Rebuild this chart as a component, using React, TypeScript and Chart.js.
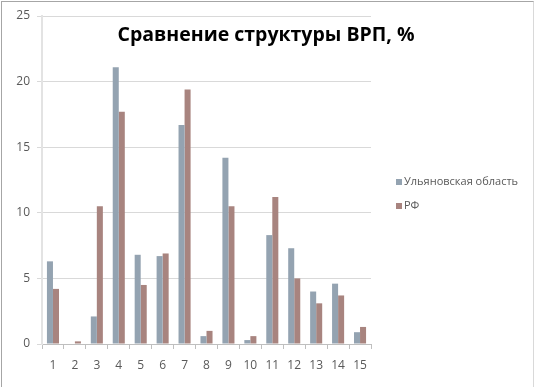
import React, { useEffect, useRef } from 'react';
import { Chart, registerables } from 'chart.js';

Chart.register(...registerables);

const TITLE = 'Сравнение структуры ВРП, %';
const categories = ['1', '2', '3', '4', '5', '6', '7', '8', '9', '10', '11', '12', '13', '14', '15'];
const seriesNames = ['Ульяновская область', 'РФ'];
const ulyanovsk = [6.3, 0, 2.1, 21.1, 6.8, 6.7, 16.7, 0.6, 14.2, 0.3, 8.3, 7.3, 4.0, 4.6, 0.9];
const rf = [4.2, 0.2, 10.5, 17.7, 4.5, 6.9, 19.4, 1.0, 10.5, 0.6, 11.2, 5.0, 3.1, 3.7, 1.3];
const yMin = 0;
const yMax = 25;
const yStep = 5;

const FONT = '"Open Sans", "Noto Sans", "DejaVu Sans", sans-serif';
const COLORS = ['#94A3B1', '#A8847F'];

const overlayPlugin = {
  id: 'overlayTitleLegend',
  afterDraw(chart: any) {
    const ctx = chart.ctx as CanvasRenderingContext2D;
    const area = chart.chartArea;
    ctx.save();
    ctx.fillStyle = '#000000';
    ctx.font = `bold 19.5px ${FONT}`;
    ctx.textAlign = 'center';
    ctx.textBaseline = 'alphabetic';
    ctx.fillText(TITLE, 266, 41);

    ctx.font = `11px ${FONT}`;
    ctx.textAlign = 'left';
    ctx.textBaseline = 'middle';
    chart.data.datasets.forEach((ds: any, i: number) => {
      const y = 182 + i * 24;
      const x = area.right + 25;
      ctx.fillStyle = ds.backgroundColor;
      ctx.fillRect(x, y - 3, 6, 6);
      ctx.fillStyle = '#595959';
      ctx.fillText(ds.label, x + 8, y);
    });
    ctx.restore();
  },
};

export default function App() {
  const ref = useRef<HTMLCanvasElement | null>(null);

  useEffect(() => {
    if (!ref.current) return;
    const chart = new Chart(ref.current, {
      type: 'bar',
      data: {
        labels: categories,
        datasets: [
          { label: seriesNames[0], data: ulyanovsk, backgroundColor: COLORS[0], categoryPercentage: 0.55, barPercentage: 1 },
          { label: seriesNames[1], data: rf, backgroundColor: COLORS[1], categoryPercentage: 0.55, barPercentage: 1 },
        ],
      },
      options: {
        responsive: false,
        animation: false,
        layout: { padding: { top: 16, right: 164, bottom: 0, left: 0 } },
        plugins: {
          legend: { display: false },
          title: { display: false },
          tooltip: { enabled: false },
        },
        scales: {
          x: {
            grid: {
              display: true,
              offset: true,
              drawOnChartArea: false,
              drawTicks: true,
              tickLength: 5,
              color: '#BFBFBF',
            },
            border: { display: true, color: '#BFBFBF', width: 1 },
            ticks: { color: '#595959', font: { family: FONT, size: 12 }, padding: 9, maxRotation: 0 },
            afterFit(scale: any) {
              scale.height = 43;
            },
          },
          y: {
            min: yMin,
            max: yMax,
            ticks: { stepSize: yStep, color: '#595959', font: { family: FONT, size: 12 }, padding: 7 },
            grid: { color: '#D9D9D9', tickLength: 5, lineWidth: 1 },
            border: { display: true, color: '#E3E3E3', width: 2 },
            afterFit(scale: any) {
              scale.width = 42;
            },
          },
        },
      },
      plugins: [overlayPlugin],
    });
    return () => chart.destroy();
  }, []);

  return (
    <div style={{ position: 'fixed', left: 0, top: 0, width: 535, height: 387, background: '#fff', overflow: 'hidden' }}>
      <canvas ref={ref} width={535} height={387} style={{ position: 'absolute', left: 0, top: 0 }} />
      <div
        style={{
          position: 'absolute',
          left: 1,
          top: 1,
          width: 531,
          height: 400,
          borderTop: '1px solid #A6A6A6',
          borderLeft: '1px solid #A6A6A6',
          borderRight: '1px solid #D9D9D9',
          pointerEvents: 'none',
        }}
      />
    </div>
  );
}
